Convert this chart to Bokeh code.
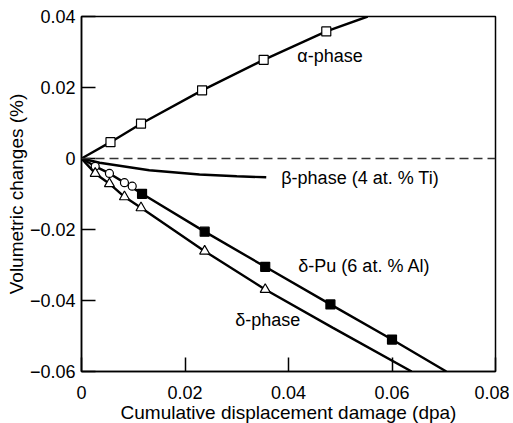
from bokeh.plotting import figure
from bokeh.models import Range1d, FixedTicker, CustomJSTickFormatter, Span
from bokeh.embed import file_html
from bokeh.resources import INLINE
from bokeh.core.properties import value

# alpha phase
alpha_x = [0.0056, 0.0115, 0.0233, 0.0352, 0.0473]
alpha_y = [0.0046, 0.0098, 0.0192, 0.0278, 0.0358]
alpha_line_x = [0.0, 0.0056, 0.0115, 0.0233, 0.0352, 0.0473, 0.0553]
alpha_line_y = [0.0, 0.0046, 0.0098, 0.0192, 0.0278, 0.0358, 0.0400]

# beta phase (4 at.% Ti)
beta_line_x = [0.0, 0.0035, 0.0131, 0.0228, 0.0300, 0.0357]
beta_line_y = [0.0, -0.0012, -0.0033, -0.0045, -0.0050, -0.0053]

# delta-Pu (6 at.% Al)
circ_x = [0.00265, 0.0054, 0.0083, 0.0098]
circ_y = [-0.0022, -0.0042, -0.0068, -0.0078]
dpu_x = [0.0117, 0.0238, 0.0355, 0.0481, 0.0600]
dpu_y = [-0.00995, -0.0206, -0.0305, -0.0411, -0.0510]
dpu_line_x = [0.0, 0.00265, 0.0054, 0.0083, 0.0117, 0.0238, 0.0355, 0.0481, 0.0600, 0.0705]
dpu_line_y = [0.0, -0.0022, -0.0042, -0.0068, -0.00995, -0.0206, -0.0305, -0.0411, -0.0510, -0.0600]

# delta phase
tri_x = [0.00265, 0.0054, 0.0083, 0.0115, 0.0238, 0.0355]
tri_y = [-0.0042, -0.0071, -0.0108, -0.0139, -0.0261, -0.0369]
dph_line_x = [0.0, 0.00265, 0.0054, 0.0083, 0.0115, 0.0238, 0.0355, 0.0486, 0.0638]
dph_line_y = [0.0, -0.0042, -0.0071, -0.0108, -0.0139, -0.0261, -0.0369, -0.0477, -0.0600]

x_ticks = [0.0, 0.02, 0.04, 0.06, 0.08]
y_ticks = [-0.06, -0.04, -0.02, 0.0, 0.02, 0.04]

labels_text = ["\u03b1-phase", "\u03b2-phase (4 at. % Ti)", "\u03b4-Pu (6 at. % Al)", "\u03b4-phase"]
labels_x = [0.0417, 0.0386, 0.0419, 0.0297]
labels_y = [0.0288, -0.0054, -0.0303, -0.0455]

FONT = "Liberation Sans"

p = figure(width=509, height=430, output_backend="svg", toolbar_location=None,
           x_range=Range1d(0, 0.08), y_range=Range1d(-0.06, 0.04),
           min_border_left=81, min_border_top=16, min_border_right=14, min_border_bottom=59)
p.background_fill_color = None
p.border_fill_color = None
p.xgrid.visible = False
p.ygrid.visible = False
p.outline_line_color = "black"
p.outline_line_width = 1.5

fmt = CustomJSTickFormatter(code="""
if (Math.abs(tick) < 1e-9) return "0";
return (tick < 0 ? "\u2212" : "") + Math.abs(tick).toFixed(2);
""")
for ax, ticks in ((p.xaxis, x_ticks), (p.yaxis, y_ticks)):
    ax.ticker = FixedTicker(ticks=ticks)
    ax.formatter = fmt
    ax.major_tick_in = 14
    ax.major_tick_out = 0
    ax.minor_tick_line_color = None
    ax.major_tick_line_width = 1.5
    ax.axis_line_width = 1.5
    ax.major_label_text_font = FONT
    ax.major_label_text_font_size = "18px"
    ax.major_label_text_color = "black"
    ax.axis_label_text_font = FONT
    ax.axis_label_text_font_size = "19px"
    ax.axis_label_text_font_style = "normal"
    ax.axis_label_text_color = "black"

p.xaxis.axis_label = "Cumulative displacement damage (dpa)"
p.yaxis.axis_label = "Volumetric changes (%)"
p.xaxis.major_label_standoff = 14
p.xaxis.axis_label_standoff = 0
p.yaxis.major_label_standoff = 6
p.yaxis.axis_label_standoff = 0

p.add_layout(Span(location=0, dimension="width", line_color="#333333",
                  line_width=1.3, line_dash="9 5"))

lw = 2.4
p.line(alpha_line_x, alpha_line_y, line_color="black", line_width=lw)
p.line(beta_line_x, beta_line_y, line_color="black", line_width=lw)
p.line(dpu_line_x, dpu_line_y, line_color="black", line_width=lw)
p.line(dph_line_x, dph_line_y, line_color="black", line_width=lw)

p.scatter(alpha_x, alpha_y, marker="square", size=9, fill_color="white",
          line_color="black", line_width=1.2)
p.scatter(circ_x, circ_y, marker="circle", size=8, fill_color="white",
          line_color="black", line_width=1.2)
p.scatter(dpu_x, dpu_y, marker="square", size=9, fill_color="black",
          line_color="black", line_width=1.2)
p.scatter(tri_x, tri_y, marker="triangle", size=10, fill_color="white",
          line_color="black", line_width=1.2)

p.text(labels_x, labels_y, text=labels_text, text_font=value(FONT),
       text_font_size="18px", text_baseline="middle", text_align="left",
       text_color="black")

open("out.html", "w").write(file_html(p, INLINE))
